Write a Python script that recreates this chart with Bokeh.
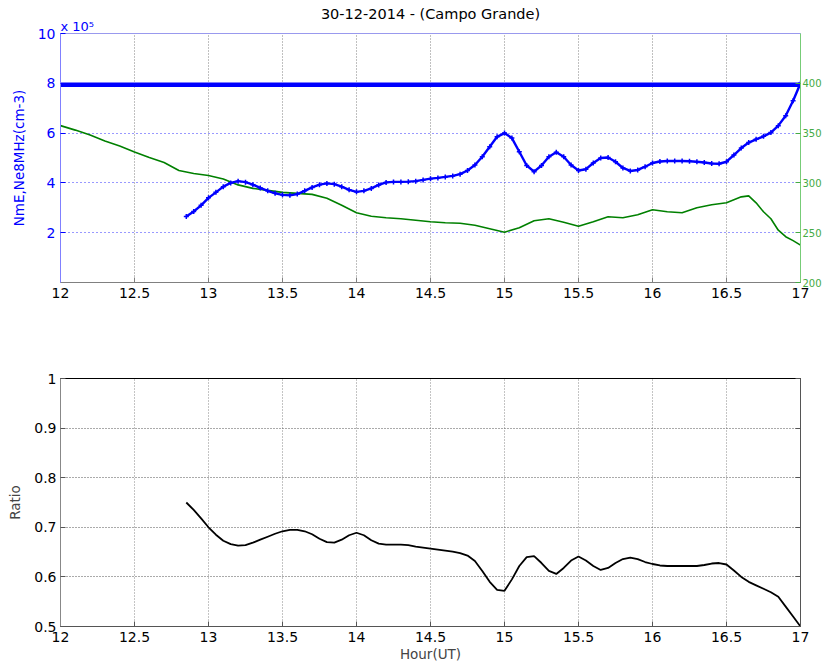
from bokeh.plotting import figure
from bokeh.models import Range1d, LinearAxis, FixedTicker, Title
from bokeh.layouts import column
from bokeh.embed import file_html
from bokeh.resources import INLINE

# ---------------- data ----------------
title_text = "30-12-2014 - (Campo Grande)"
scale_text = "x 10\u2075"

# hours (UT) of NmE and ratio samples
hours = [12.85, 12.90, 12.95, 13.00, 13.05, 13.10, 13.15, 13.20, 13.25, 13.30,
         13.35, 13.40, 13.45, 13.50, 13.55, 13.60, 13.65, 13.70, 13.75, 13.80,
         13.85, 13.90, 13.95, 14.00, 14.05, 14.10, 14.15, 14.20, 14.25, 14.30,
         14.35, 14.40, 14.45, 14.50, 14.55, 14.60, 14.65, 14.70, 14.75, 14.80,
         14.85, 14.90, 14.95, 15.00, 15.05, 15.10, 15.15, 15.20, 15.25, 15.30,
         15.35, 15.40, 15.45, 15.50, 15.55, 15.60, 15.65, 15.70, 15.75, 15.80,
         15.85, 15.90, 15.95, 16.00, 16.05, 16.10, 16.15, 16.20, 16.25, 16.30,
         16.35, 16.40, 16.45, 16.50, 16.55, 16.60, 16.65, 16.70, 16.75, 16.80,
         16.85, 16.90, 16.95, 17.00]

# NmE in units of 1e5 cm-3
nme = [2.65, 2.85, 3.10, 3.40, 3.62, 3.85, 4.00, 4.07, 4.03, 3.93,
       3.80, 3.68, 3.58, 3.52, 3.50, 3.55, 3.68, 3.82, 3.93, 3.98,
       3.95, 3.85, 3.72, 3.64, 3.68, 3.78, 3.92, 4.02, 4.04, 4.04,
       4.05, 4.07, 4.12, 4.17, 4.20, 4.24, 4.28, 4.35, 4.50, 4.72,
       5.05, 5.45, 5.85, 6.00, 5.80, 5.25, 4.70, 4.45, 4.70, 5.05,
       5.23, 5.05, 4.72, 4.50, 4.55, 4.80, 5.00, 5.02, 4.85, 4.60,
       4.48, 4.52, 4.65, 4.80, 4.86, 4.88, 4.88, 4.88, 4.87, 4.85,
       4.82, 4.78, 4.77, 4.85, 5.12, 5.40, 5.62, 5.75, 5.87, 6.02,
       6.30, 6.70, 7.30, 8.00]

ratio = [0.750, 0.735, 0.718, 0.700, 0.685, 0.673, 0.666, 0.663, 0.664, 0.669,
         0.675, 0.681, 0.687, 0.692, 0.695, 0.695, 0.692, 0.686, 0.677, 0.670,
         0.669, 0.675, 0.684, 0.689, 0.684, 0.674, 0.667, 0.665, 0.665, 0.665,
         0.664, 0.661, 0.659, 0.657, 0.655, 0.653, 0.651, 0.648, 0.643, 0.632,
         0.612, 0.590, 0.574, 0.572, 0.595, 0.622, 0.640, 0.642, 0.628, 0.612,
         0.606, 0.618, 0.633, 0.641, 0.633, 0.622, 0.614, 0.618, 0.628, 0.636,
         0.639, 0.636, 0.630, 0.626, 0.623, 0.622, 0.622, 0.622, 0.622, 0.622,
         0.624, 0.627, 0.628, 0.625, 0.613, 0.600, 0.590, 0.583, 0.576, 0.569,
         0.560, 0.540, 0.520, 0.500]

# Ne at 8 MHz (1e5 cm-3), constant over the window
ne8_hours = [12.0, 17.0]
ne8_value = [7.94, 7.94]

# green series on the right axis
green_hours = [12.0, 12.1, 12.2, 12.3, 12.4, 12.5, 12.6, 12.7, 12.8, 12.9,
               13.0, 13.1, 13.2, 13.3, 13.4, 13.5, 13.6, 13.7, 13.8, 13.9,
               14.0, 14.1, 14.2, 14.3, 14.4, 14.5, 14.6, 14.7, 14.8, 14.9,
               15.0, 15.1, 15.2, 15.3, 15.4, 15.5, 15.6, 15.7, 15.8, 15.9,
               16.0, 16.1, 16.2, 16.3, 16.4, 16.5, 16.6,
               16.65, 16.7, 16.75, 16.8, 16.85, 16.9, 16.95, 17.0]
green_vals = [357.5, 353, 348, 342, 337, 331, 325.5, 320.5, 312.5, 309.5,
              307.5, 304, 298, 294.5, 292.5, 290.5, 289.5, 288.5, 284.5, 277.5,
              270, 266.5, 265, 264, 262.5, 261, 260, 259.5, 257.5, 254,
              250.5, 255, 262, 264, 260.5, 256.5, 261, 266, 265, 268,
              273, 271, 270, 275, 278, 280, 286,
              287, 280, 271, 264, 252.5, 246, 242, 237.5]

x_ticks = [12, 12.5, 13, 13.5, 14, 14.5, 15, 15.5, 16, 16.5, 17]
x_labels = ["12", "12.5", "13", "13.5", "14", "14.5", "15", "15.5", "16", "16.5", "17"]
left_ticks = [2, 4, 6, 8, 10]
right_ticks = [200, 250, 300, 350, 400]
ratio_ticks = [0.5, 0.6, 0.7, 0.8, 0.9, 1.0]
ratio_labels = ["0.5", "0.6", "0.7", "0.8", "0.9", "1"]

FONT = "DejaVu Sans"
BLUE = "#0000ff"
GREEN = "#008000"

# ---------------- top figure ----------------
p1 = figure(frame_width=740, frame_height=249,
            x_range=Range1d(12, 17), y_range=Range1d(0, 10),
            output_backend="svg", toolbar_location=None,
            min_border_left=60, min_border_right=22,
            min_border_top=33, min_border_bottom=76)
p1.title = None
p1.extra_y_ranges = {"right": Range1d(200, 450)}
p1.outline_line_color = "#9999ee"

# inner (nearest the frame) title: scale factor, then the main title above it
p1.add_layout(Title(text=scale_text, align="left", text_font=FONT,
                    text_font_size="13px", text_font_style="normal",
                    text_color=BLUE, standoff=0), "above")
p1.add_layout(Title(text=title_text, align="center", text_font=FONT,
                    text_font_size="14.5px", text_font_style="normal",
                    text_color="#000000", standoff=-10), "above")

p1.xaxis.ticker = FixedTicker(ticks=x_ticks)
p1.xaxis.major_label_overrides = {float(t): l for t, l in zip(x_ticks, x_labels)}
p1.yaxis.ticker = FixedTicker(ticks=left_ticks)

for ax in p1.xaxis:
    ax.major_tick_in = 5
    ax.major_tick_out = 0
    ax.minor_tick_line_color = None
    ax.axis_line_color = "#808080"
    ax.major_tick_line_color = "#808080"
    ax.major_label_text_font = FONT
    ax.major_label_text_font_size = "14px"
    ax.major_label_text_color = "#000000"
    ax.major_label_standoff = 5

for ax in p1.yaxis:
    ax.major_tick_in = 5
    ax.major_tick_out = 0
    ax.minor_tick_line_color = None
    ax.axis_line_color = "#8080ff"
    ax.major_tick_line_color = "#0000ff"
    ax.major_label_text_font = FONT
    ax.major_label_text_font_size = "14px"
    ax.major_label_text_color = BLUE
    ax.major_label_standoff = 5
    ax.axis_label = "NmE,Ne8MHz(cm-3)"
    ax.axis_label_text_font = FONT
    ax.axis_label_text_font_size = "13.5px"
    ax.axis_label_text_font_style = "normal"
    ax.axis_label_text_color = BLUE
    ax.axis_label_standoff = 8

right_axis = LinearAxis(y_range_name="right", ticker=FixedTicker(ticks=right_ticks))
right_axis.major_tick_in = 5
right_axis.major_tick_out = 0
right_axis.minor_tick_line_color = None
right_axis.axis_line_color = "#77cc77"
right_axis.major_tick_line_color = "#44aa44"
right_axis.major_label_text_font = FONT
right_axis.major_label_text_font_size = "10px"
right_axis.major_label_text_color = "#44aa44"
right_axis.major_label_standoff = 2
p1.add_layout(right_axis, "right")

p1.xgrid.grid_line_color = "#808080"
p1.xgrid.grid_line_dash = "1 2"
p1.xgrid.ticker = FixedTicker(ticks=x_ticks)
p1.ygrid.grid_line_color = "#3333ff"
p1.ygrid.grid_line_dash = "1 3"
p1.ygrid.ticker = FixedTicker(ticks=left_ticks)

p1.line(green_hours, green_vals, y_range_name="right", line_color=GREEN, line_width=1.6)
p1.line(ne8_hours, ne8_value, line_color=BLUE, line_width=4.5)
p1.line(hours, nme, line_color=BLUE, line_width=2.4)
p1.scatter(hours, nme, marker="cross", size=5, line_color=BLUE, line_width=1.5)

# ---------------- bottom figure ----------------
p2 = figure(frame_width=740, frame_height=248,
            x_range=Range1d(12, 17), y_range=Range1d(0.5, 1.0),
            output_backend="svg", toolbar_location=None,
            min_border_left=60, min_border_right=22,
            min_border_top=20, min_border_bottom=37)
p2.outline_line_color = "#000000"
p2.xaxis.ticker = FixedTicker(ticks=x_ticks)
p2.xaxis.major_label_overrides = {float(t): l for t, l in zip(x_ticks, x_labels)}
p2.yaxis.ticker = FixedTicker(ticks=ratio_ticks)
p2.yaxis.major_label_overrides = {float(t): l for t, l in zip(ratio_ticks, ratio_labels)}

for ax in p2.xaxis:
    ax.major_tick_in = 5
    ax.major_tick_out = 0
    ax.minor_tick_line_color = None
    ax.axis_line_color = "#555555"
    ax.major_tick_line_color = "#555555"
    ax.major_label_text_font = FONT
    ax.major_label_text_font_size = "14px"
    ax.major_label_text_color = "#000000"
    ax.major_label_standoff = 5
    ax.axis_label = "Hour(UT)"
    ax.axis_label_text_font = FONT
    ax.axis_label_text_font_size = "13.5px"
    ax.axis_label_text_font_style = "normal"
    ax.axis_label_standoff = 1

for ax in p2.yaxis:
    ax.major_tick_in = 5
    ax.major_tick_out = 0
    ax.minor_tick_line_color = None
    ax.axis_line_color = "#888888"
    ax.major_tick_line_color = "#555555"
    ax.major_label_text_font = FONT
    ax.major_label_text_font_size = "14px"
    ax.major_label_text_color = "#000000"
    ax.major_label_standoff = 4
    ax.axis_label = "Ratio"
    ax.axis_label_text_font = FONT
    ax.axis_label_text_font_size = "13.5px"
    ax.axis_label_text_font_style = "normal"
    ax.axis_label_standoff = 8

r2 = LinearAxis(ticker=FixedTicker(ticks=ratio_ticks))
r2.major_tick_in = 5
r2.major_tick_out = 0
r2.minor_tick_line_color = None
r2.axis_line_color = "#555555"
r2.major_tick_line_color = "#555555"
r2.major_label_text_alpha = 0
r2.major_label_text_font_size = "1px"
r2.major_label_standoff = 0
p2.add_layout(r2, "right")

p2.xgrid.grid_line_color = "#888888"
p2.xgrid.grid_line_dash = "1 2"
p2.ygrid.grid_line_color = "#555555"
p2.ygrid.grid_line_dash = "1 2"
p2.ygrid.ticker = FixedTicker(ticks=ratio_ticks)

p2.line(hours, ratio, line_color="#000000", line_width=1.8)

layout = column(p1, p2, spacing=0)
open("out.html", "w").write(file_html(layout, INLINE))
